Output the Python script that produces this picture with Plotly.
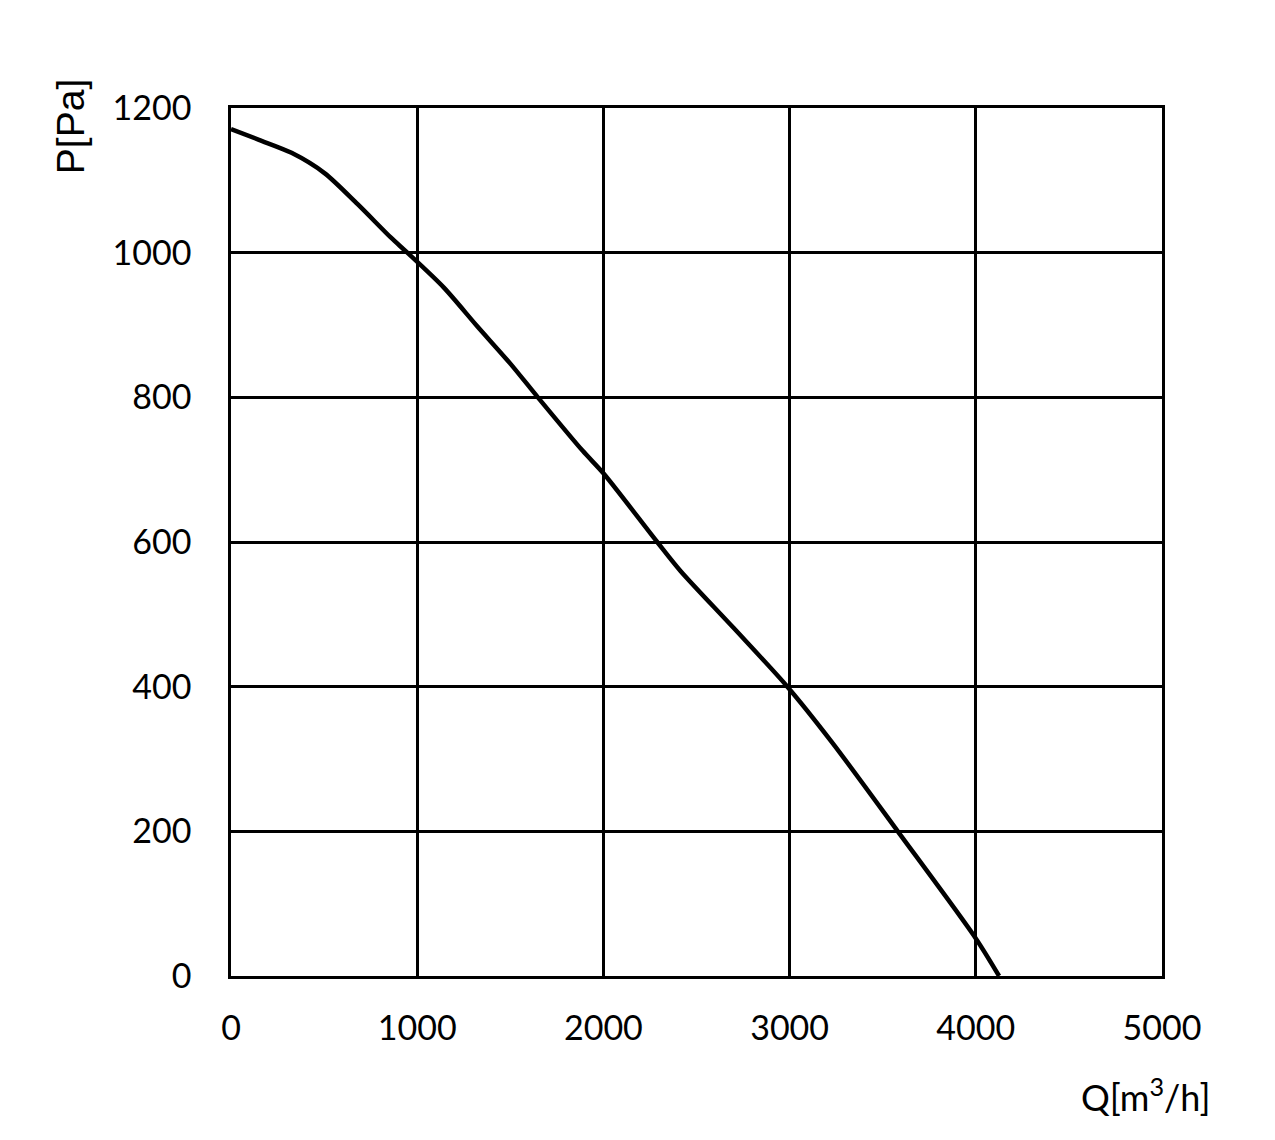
import plotly.graph_objects as go

# fan curve: flow Q [m3/h] vs pressure P [Pa]
flow = [0, 150, 325, 502, 680, 858, 947, 1142, 1320, 1499, 1648, 1889,
        2000, 2289, 2414, 2700, 2988, 3228, 3581, 4000, 4125]
pressure = [1171, 1156, 1138, 1110, 1067, 1021, 1000, 952, 899, 847, 800, 726,
            695, 600, 560, 481, 400, 323, 200, 52, 0]

x_ticks = [0, 1000, 2000, 3000, 4000, 5000]
y_ticks = [0, 200, 400, 600, 800, 1000, 1200]

tick_font = dict(family="Lato", size=34, color="black")

fig = go.Figure()
fig.add_trace(go.Scatter(x=flow, y=pressure, mode="lines",
                         line=dict(color="black", width=4.5, shape="spline", smoothing=0.8),
                         hoverinfo="skip", showlegend=False))

axis = dict(showline=True, linecolor="black", linewidth=2.5, mirror=True,
            showgrid=True, gridcolor="black", gridwidth=2.5,
            zeroline=False, ticks="", tickfont=tick_font)

fig.update_xaxes(axis, range=[0, 5000], tickvals=x_ticks, ticklabelstandoff=20)
fig.update_yaxes(axis, range=[0, 1200], tickvals=y_ticks, ticklabelstandoff=30)

fig.update_layout(
    width=1275, height=1140,
    margin=dict(l=223, r=121, t=100, b=172),
    plot_bgcolor="white", paper_bgcolor="white",
    annotations=[
        dict(text="P[Pa]", xref="paper", yref="paper", x=-0.173, y=0.979,
             xanchor="center", yanchor="middle", textangle=-90, showarrow=False,
             font=dict(family="Liberation Sans", size=39, color="black")),
        dict(text="Q[m<sup>3</sup>/h]", xref="paper", yref="paper", x=1.0535, y=-0.1376,
             xanchor="right", yanchor="middle", showarrow=False,
             font=dict(family="Lato", size=36, color="black")),
    ],
)

fig.write_html("out.html")
